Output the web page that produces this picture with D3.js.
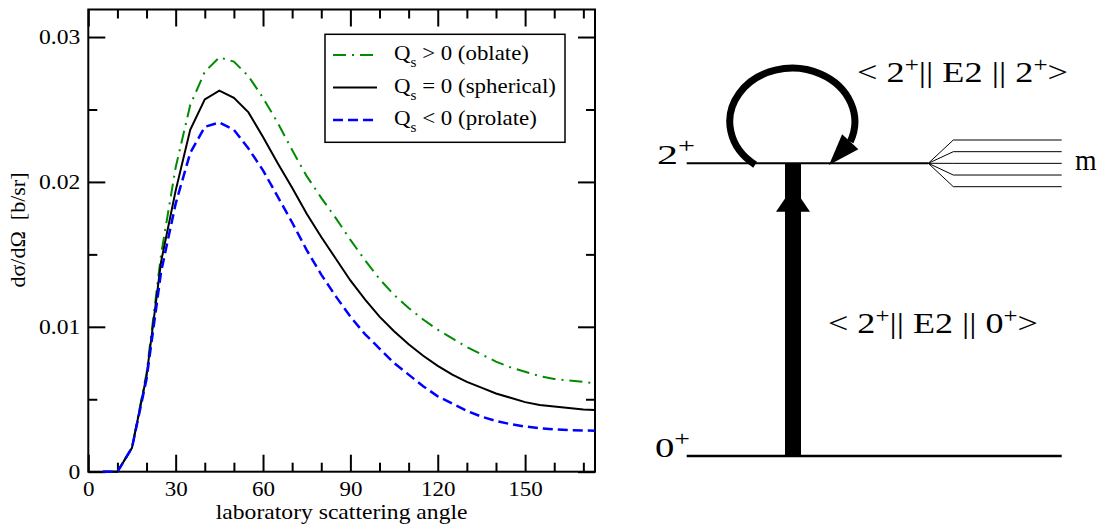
<!DOCTYPE html>
<html>
<head>
<meta charset="utf-8">
<script src="https://cdn.jsdelivr.net/npm/d3@7"></script>
<style>
  body { margin: 0; background: #fff; }
  svg { display: block; }
  text { font-family: "Liberation Serif", "Times New Roman", serif; fill: #000; }
</style>
</head>
<body>
<svg id="chart" width="1113" height="527"></svg>
<script>
"use strict";

//// data
const angles = [5, 10, 15, 20, 25, 30, 35, 40, 45, 50, 55, 60, 65, 70, 75, 80, 85, 90, 95, 100,
    105, 110, 115, 120, 125, 130, 135, 140, 145, 150, 155, 160, 165, 170, 174];
const oblate = [0, 0, 0.00165, 0.0068, 0.0150, 0.0210, 0.0253, 0.0276, 0.0286, 0.0283,
    0.0273, 0.0258, 0.0241, 0.0222, 0.0204, 0.0189, 0.0175, 0.0160, 0.0146, 0.0133,
    0.0122, 0.0113, 0.0105, 0.0098, 0.0092, 0.0086, 0.0081, 0.0076, 0.0072, 0.0069,
    0.0066, 0.0064, 0.0063, 0.0062, 0.0061];
const spherical = [0, 0, 0.00165, 0.0066, 0.0145, 0.0194, 0.0236, 0.0257, 0.0263, 0.0258,
    0.0248, 0.0231, 0.0213, 0.0196, 0.0178, 0.0162, 0.0147, 0.0132, 0.0119, 0.0107,
    0.0097, 0.0088, 0.0080, 0.0073, 0.0067, 0.0062, 0.0058, 0.0054, 0.0051, 0.0048,
    0.0046, 0.0045, 0.0044, 0.0043, 0.00426];
const prolate = [0, 0, 0.00165, 0.0064, 0.0138, 0.0185, 0.0220, 0.0238, 0.0241, 0.0236,
    0.0223, 0.0208, 0.0190, 0.0172, 0.0153, 0.0136, 0.0121, 0.0107, 0.0095, 0.0085,
    0.0075, 0.0067, 0.0059, 0.0052, 0.0047, 0.0042, 0.0038, 0.0035, 0.00328, 0.00312,
    0.0030, 0.00292, 0.00287, 0.00284, 0.00283];
const legendLabels = [" > 0 (oblate)", " = 0 (spherical)", " < 0 (prolate)"];
const xMajorTicks = [0, 30, 60, 90, 120, 150];
const xMinorTicks = [10, 20, 40, 50, 70, 80, 100, 110, 130, 140, 160, 170];
const yMajorTicks = [0, 0.01, 0.02, 0.03];
const yMinorTicks = [0.005, 0.015, 0.025];
const mSubstates = [-2, -1, 0, 1, 2];

(function () {
    //// styles per series
    const series = [
        { values: oblate, color: "#008c00", dash: "13,6,2,6", width: 2 },
        { values: spherical, color: "#000", dash: null, width: 2 },
        { values: prolate, color: "#0000ff", dash: "10,5", width: 2.5 }
    ];
    const textStretch = 1.15;

    const svg = d3.select("#chart");
    svg.append("rect").attr("width", 1113).attr("height", 527).attr("fill", "#fff");

    // stretch a text horizontally about anchorX so that it is `width` wide
    function fitWidth(text, anchorX, width) {
        const w = text.node().getBBox().width;
        const k = width / w;
        text.attr("transform", "translate(" + anchorX + ",0) scale(" + k + ",1) translate(" + (-anchorX) + ",0)");
    }

    //// plot
    const pLeft = 88.3, pRight = 595, pTop = 9.5, pBottom = 471.7;
    const x = d3.scaleLinear().domain([0, 174]).range([pLeft, pRight]);
    const y = d3.scaleLinear().domain([0, 0.0319]).range([pBottom, pTop]);

    const plot = svg.append("g");

    function ticks(axisFn, scale, values, size, translate) {
        return plot.append("g")
            .attr("transform", "translate(" + translate + ")")
            .call(axisFn(scale).tickValues(values).tickSize(-size).tickFormat(""))
            .call(g => g.select(".domain").remove())
            .call(g => g.selectAll(".tick line").attr("stroke", "#000").attr("stroke-width", 2));
    }

    ticks(d3.axisBottom, x, xMinorTicks, 9, "0," + pBottom);
    ticks(d3.axisTop, x, xMinorTicks, 9, "0," + pTop);
    ticks(d3.axisTop, x, xMajorTicks, 17, "0," + pTop);
    ticks(d3.axisLeft, y, yMinorTicks, 9, pLeft + ",0");
    ticks(d3.axisRight, y, yMinorTicks, 9, pRight + ",0");
    ticks(d3.axisRight, y, yMajorTicks, 17, pRight + ",0");

    // labelled axes
    plot.append("g")
        .attr("transform", "translate(0," + pBottom + ")")
        .call(d3.axisBottom(x).tickValues(xMajorTicks).tickSize(-17).tickFormat(d3.format("d")))
        .call(g => g.select(".domain").remove())
        .call(g => g.selectAll(".tick line").attr("stroke", "#000").attr("stroke-width", 2))
        .call(g => g.selectAll("text")
            .attr("y", 24.5).attr("dy", 0)
            .attr("font-family", null).attr("font-size", null).attr("fill", null)
            .style("font-size", "20px")
            .attr("transform", "scale(" + textStretch + ",1)"));

    plot.append("g")
        .attr("transform", "translate(" + pLeft + ",0)")
        .call(d3.axisLeft(y).tickValues(yMajorTicks).tickSize(-17)
            .tickFormat(d => d === 0 ? "0" : d3.format(".2f")(d)))
        .call(g => g.select(".domain").remove())
        .call(g => g.selectAll(".tick line").attr("stroke", "#000").attr("stroke-width", 2))
        .call(g => g.selectAll("text")
            .attr("x", -8 / textStretch).attr("dy", "0.33em")
            .attr("font-family", null).attr("font-size", null).attr("fill", null)
            .style("font-size", "20.5px")
            .attr("transform", "scale(" + textStretch + ",1)"));

    // frame
    plot.append("rect")
        .attr("x", pLeft).attr("y", pTop)
        .attr("width", pRight - pLeft).attr("height", pBottom - pTop)
        .attr("fill", "none").attr("stroke", "#000").attr("stroke-width", 2);

    // curves
    const line = d3.line()
        .x((d, i) => x(angles[i]))
        .y(d => y(d));

    plot.selectAll(".curve")
        .data(series)
        .enter().append("path")
            .attr("class", "curve")
            .attr("d", d => line(d.values))
            .attr("fill", "none")
            .attr("stroke", d => d.color)
            .attr("stroke-width", d => d.width)
            .attr("stroke-dasharray", d => d.dash);

    // axis titles
    const xTitle = plot.append("text")
        .attr("x", (pLeft + pRight) / 2).attr("y", 519)
        .attr("text-anchor", "middle")
        .style("font-size", "20px")
        .text("laboratory scattering angle");
    fitWidth(xTitle, (pLeft + pRight) / 2, 252);

    plot.append("text")
        .attr("transform", "translate(25,230) rotate(-90)")
        .attr("text-anchor", "middle")
        .style("font-size", "22px")
        .text("d\u03c3/d\u03a9\u00a0\u00a0[b/sr]");

    // legend
    const legend = plot.append("g");
    legend.append("rect")
        .attr("x", 325).attr("y", 34.3).attr("width", 240).attr("height", 108)
        .attr("fill", "#fff").attr("stroke", "#000").attr("stroke-width", 1.5);

    const legendWidths = [135, 162, 143];
    series.forEach(function(s, i) {
        const base = 60.5 + i * 32.5;
        legend.append("line")
            .attr("x1", 333).attr("x2", 377)
            .attr("y1", base - 5.5).attr("y2", base - 5.5)
            .attr("stroke", s.color).attr("stroke-width", s.width)
            .attr("stroke-dasharray", s.dash);
        const t = legend.append("text")
            .attr("x", 394).attr("y", base)
            .style("font-size", "21px");
        t.append("tspan").text("Q");
        t.append("tspan").attr("dy", 7).style("font-size", "14px").text("s");
        t.append("tspan").attr("dy", -7).text(legendLabels[i]);
        fitWidth(t, 394, legendWidths[i]);
    });

    //// level scheme
    const scheme = svg.append("g");
    const level2 = 163.3, level0 = 456;

    scheme.append("line")
        .attr("x1", 686.7).attr("x2", 928.3).attr("y1", level2).attr("y2", level2)
        .attr("stroke", "#000").attr("stroke-width", 2);
    scheme.append("line")
        .attr("x1", 686.7).attr("x2", 1061.7).attr("y1", level0).attr("y2", level0)
        .attr("stroke", "#000").attr("stroke-width", 2.5);

    // magnetic substates fan
    const mScale = d3.scaleLinear().domain([-2, 2]).range([186.7, 140]);
    scheme.selectAll(".sub")
        .data(mSubstates)
        .enter().append("polyline")
            .attr("class", "sub")
            .attr("points", d => [[928.3, level2], [953.3, mScale(d)], [1061.7, mScale(d)]].join(" "))
            .attr("fill", "none").attr("stroke", "#000").attr("stroke-width", 1);

    // excitation bar with arrowhead
    const barX = 793;
    scheme.append("rect")
        .attr("x", barX - 8).attr("y", level2).attr("width", 16).attr("height", level0 - level2)
        .attr("fill", "#000");
    scheme.append("path")
        .attr("d", "M" + barX + "," + (level2 + 23.4) + "L" + (barX + 17) + "," + (level2 + 48.4) +
            "L" + (barX - 17) + "," + (level2 + 48.4) + "Z")
        .attr("fill", "#000");

    // reorientation loop
    const loop = { cx: 792.3, cy: 121.7, rx: 62.5, ry: 53.5 };
    const pt = a => [loop.cx + loop.rx * Math.cos(a * Math.PI / 180), loop.cy + loop.ry * Math.sin(a * Math.PI / 180)];
    const p0 = pt(126.5), p1 = pt(382), tip = pt(54);
    scheme.append("path")
        .attr("d", "M" + p0 + "A" + loop.rx + "," + loop.ry + " 0 1 1 " + p1)
        .attr("fill", "none").attr("stroke", "#000").attr("stroke-width", 7);
    const dx = tip[0] - p1[0], dy = tip[1] - p1[1], len = Math.hypot(dx, dy);
    const nx = -dy / len * 11, ny = dx / len * 11;
    scheme.append("path")
        .attr("d", "M" + tip + "L" + [p1[0] + nx, p1[1] + ny] + "L" + [p1[0] - nx, p1[1] - ny] + "Z")
        .attr("fill", "#000");

    // level labels
    function levelLabel(spin, xPos, base, width) {
        const t = scheme.append("text").attr("x", xPos).attr("y", base).style("font-size", "28px");
        t.append("tspan").text(spin);
        t.append("tspan").attr("dy", -11).style("font-size", "20px").text("+");
        fitWidth(t, xPos, width);
    }
    levelLabel("2", 657, 164, 38);
    levelLabel("0", 655, 457, 35);

    const mText = scheme.append("text")
        .attr("x", 1075).attr("y", 170)
        .style("font-size", "29px")
        .text("m");
    fitWidth(mText, 1075, 22);

    function matrixLabel(final, xPos, base, width) {
        const t = scheme.append("text").attr("x", xPos).attr("y", base).style("font-size", "29px");
        t.append("tspan").text("< 2");
        t.append("tspan").attr("dy", -10).style("font-size", "20px").text("+");
        t.append("tspan").attr("dy", 10).text("|| E2 || " + final);
        t.append("tspan").attr("dy", -10).style("font-size", "20px").text("+");
        t.append("tspan").attr("dy", 10).text(">");
        fitWidth(t, xPos, width);
    }
    matrixLabel("2", 857, 82, 211);
    matrixLabel("0", 828, 333.5, 210);
})();
</script>
</body>
</html>
